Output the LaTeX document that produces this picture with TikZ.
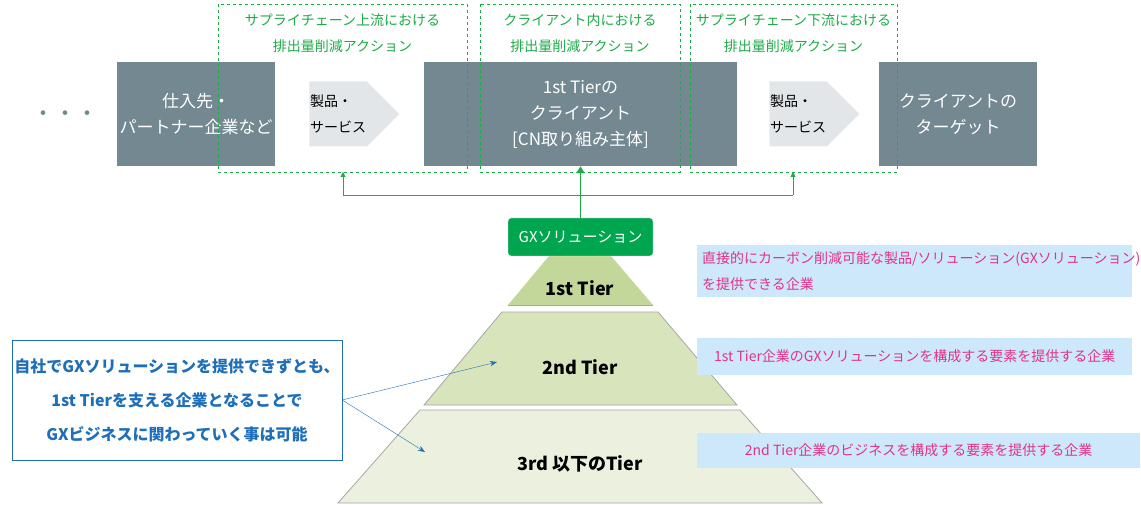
\documentclass[tikz,border=0pt]{standalone}
\usepackage{fontspec}
\setmainfont{Noto Sans CJK JP}
\usetikzlibrary{shapes.arrows,arrows.meta}
\definecolor{gbox}{HTML}{748892}
\definecolor{garrow}{HTML}{E3E6E8}
\definecolor{dgreen}{HTML}{1FAA4A}
\definecolor{gxfill}{HTML}{00A550}
\definecolor{t1}{HTML}{C4D79B}
\definecolor{t2}{HTML}{D8E4BC}
\definecolor{t3}{HTML}{EBF1DE}
\definecolor{lblue}{HTML}{CDE8FB}
\definecolor{mag}{HTML}{E0338A}
\definecolor{dblue}{HTML}{1F6FB8}
\begin{document}
\begin{tikzpicture}[x=1pt,y=-1pt,
 gb/.style={fill=gbox,text=white,font=\fontsize{17}{26}\selectfont,align=center,inner sep=0},
 gdash/.style={draw=dgreen,dashed,thin},
 gt/.style={text=dgreen,font=\fontsize{14}{26}\selectfont,align=center},
 arr/.style={single arrow,fill=garrow,minimum height=90pt,minimum width=65pt,single arrow head extend=0pt,shape border uses incircle=false,inner sep=0,font=\fontsize{14}{26}\selectfont,align=left},
 bl/.style={fill=lblue,text=mag,font=\fontsize{14}{26}\selectfont,align=left,anchor=north west,inner sep=0},
 tier/.style={draw=gray!70,line width=0.8pt}]
\useasboundingbox (0,0) rectangle (1141,505);
\node (dots) at (65,116) {\fontsize{22}{22}\selectfont\color{gbox}・・・};
\node[gb,minimum width=158pt,minimum height=104pt] (sup) at (196,114) {仕入先・\\パートナー企業など};
\node[gb,minimum width=313pt,minimum height=104pt] (cli) at (580.5,114) {1st Tierの\\クライアント\\{}{[CN取り組み主体]}};
\node[gb,minimum width=158pt,minimum height=104pt] (tgt) at (958,114) {クライアントの\\ターゲット};
\node[arr] (a1) at (338,114) {製品・\\サービス};
\node[arr] (a2) at (798,114) {製品・\\サービス};
\draw[gdash] (218,4) rectangle (467,172);
\draw[gdash] (480,4) rectangle (680,172);
\draw[gdash] (690,4) rectangle (897,172);
\node[gt] (l1) at (342.5,33) {サプライチェーン上流における\\排出量削減アクション};
\node[gt] (l2) at (580,33) {クライアント内における\\排出量削減アクション};
\node[gt] (l3) at (793.5,33) {サプライチェーン下流における\\排出量削減アクション};
% pyramid
\fill[t1] (549,256) -- (611,256) -- (653,305) -- (508,305) -- cycle;
\draw[tier] (508,305) -- (653,305);
\draw[tier,fill=t2] (502,312) -- (658,312) -- (737,405) -- (424,405) -- cycle;
\draw[tier,fill=t3] (420,410) -- (740,410) -- (822,503) -- (338,503) -- cycle;
\node (p1) at (580,288) {\fontsize{18}{18}\selectfont\bfseries 1st Tier};
\node (p2) at (580,367) {\fontsize{18}{18}\selectfont\bfseries 2nd Tier};
\node (p3) at (580,464) {\fontsize{18}{18}\selectfont\bfseries 3rd 以下のTier};
\node[fill=gxfill,text=white,rounded corners=3pt,minimum width=145pt,minimum height=38pt,font=\fontsize{15}{15}\selectfont,draw=white] (gx) at (580.5,237) {GXソリューション};
\draw[dgreen,line width=1.5pt,-{Triangle[length=7pt,width=8pt]}] (gx.north) -- (cli.south);
\coordinate (bl) at (343,195); \coordinate (br) at (793,195);
\draw[dgreen,thin] (bl) -- (br);
\draw[dgreen,thin,-{Triangle[length=5pt,width=5pt]}] (bl) -- (343,172);
\draw[dgreen,thin,-{Triangle[length=5pt,width=5pt]}] (br) -- (793,172);
\node[bl,minimum width=435pt,minimum height=52pt,text width=425pt,inner xsep=5pt] (b1) at (697,245) {直接的にカーボン削減可能な製品/ソリューション(GXソリューション)\\を提供できる企業};
\node[bl,minimum width=435pt,minimum height=37pt,align=center] (b2) at (697,338) {1st Tier企業のGXソリューションを構成する要素を提供する企業};
\node[bl,minimum width=443pt,minimum height=35pt,align=center] (b3) at (697,433) {2nd Tier企業のビジネスを構成する要素を提供する企業};
\node[draw=dblue,fill=white,text=dblue,font=\fontsize{16}{34}\selectfont\bfseries,align=center,minimum width=330pt,minimum height=120pt,inner sep=0] (left) at (177,400) {自社でGXソリューションを提供できずとも、\\1st Tierを支える企業となることで\\GXビジネスに関わっていく事は可能};
\coordinate (t2p) at (497,362); \coordinate (t3p) at (425,452);
\draw[dblue,-{Stealth[length=7pt]}] (left.east) -- (t2p);
\draw[dblue,-{Stealth[length=7pt]}] (left.east) -- (t3p);
\end{tikzpicture}
\end{document}
